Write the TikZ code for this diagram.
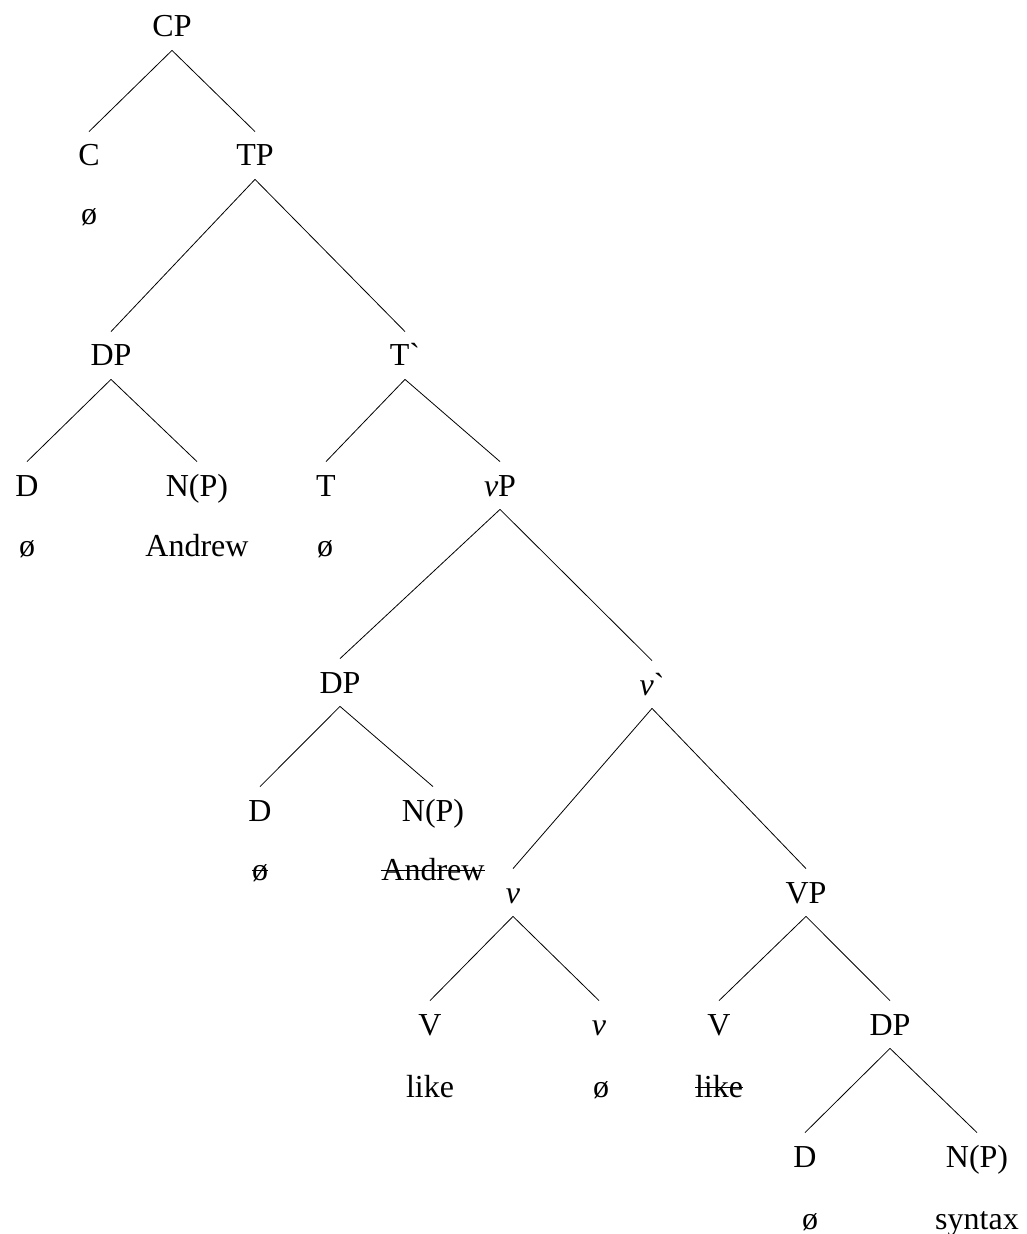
\documentclass[tikz,border=0pt]{standalone}
\usepackage{fontspec}
\setmainfont{Liberation Serif}
\usepackage{tikz}

\newcommand{\struck}[1]{\setbox0\hbox{#1}\rlap{\raise0.28em\hbox{\vrule width\wd0 height0.7pt depth0pt}}\box0}

\tikzset{
  cat/.style={anchor=base,font=\fontsize{16}{19}\selectfont,text height=11pt,text depth=0.5pt,inner xsep=1pt,inner ysep=6pt},
  word/.style={anchor=base,font=\fontsize{16}{19}\selectfont,inner sep=1pt}
}

\begin{document}
\begin{tikzpicture}[x=0.5pt,y=0.5pt,yscale=-1,xscale=1]
		\useasboundingbox (0,0) rectangle (1026,1234);
		
		% Text Node
		\node [cat] (cp) at (172,37) {CP};
		\node [cat] (c) at (89,166) {C};
		\node [word] (c0) at (89,225) {ø};
		\node [cat] (tp) at (255,166) {TP};
		% Text Node
		\node [cat] (dp1) at (111,366) {DP};
		\node [cat] (tbar) at (405,366) {T\textasciigrave};
		% Text Node
		\node [cat] (d1) at (27,496) {D};
		\node [word] (d10) at (27,556) {ø};
		\node [cat] (np1) at (197,496) {N(P)};
		\node [word] (andrew1) at (197,556) {Andrew};
		\node [cat] (t) at (326,496) {T};
		\node [word] (t0) at (325,556) {ø};
		\node [cat] (vp) at (500,496) {\textit{v}P};
		% Text Node
		\node [cat] (dp2) at (340,693) {DP};
		\node [cat] (vbar) at (652,695) {\textit{v}\textasciigrave};
		% Text Node
		\node [cat] (d2) at (260,821) {D};
		\node [word] (d20) at (260,880) {\struck{ø}};
		\node [cat] (np2) at (433,821) {N(P)};
		\node [word] (andrew2) at (433,880) {\struck{Andrew}};
		% Text Node
		\node [cat] (v1) at (513,903) {\textit{v}};
		\node [cat] (vphr) at (806,903) {VP};
		% Text Node
		\node [cat] (bigv1) at (430,1035) {V};
		\node [word] (like1) at (430,1097) {like};
		\node [cat] (v2) at (599,1035) {\textit{v}};
		\node [word] (v20) at (601,1097) {ø};
		\node [cat] (bigv2) at (719,1035) {V};
		\node [word] (like2) at (719,1097) {\struck{like}};
		\node [cat] (dp3) at (890,1035) {DP};
		% Text Node
		\node [cat] (d3) at (805,1167) {D};
		\node [word] (d30) at (810,1229) {ø};
		\node [cat] (np3) at (977,1167) {N(P)};
		\node [word] (syntax) at (977,1229) {syntax};
		
		% Connection
		\draw (cp.south) -- (c.north);
		\draw (cp.south) -- (tp.north);
		\draw (tp.south) -- (dp1.north);
		\draw (tp.south) -- (tbar.north);
		\draw (dp1.south) -- (d1.north);
		\draw (dp1.south) -- (np1.north);
		\draw (tbar.south) -- (t.north);
		\draw (tbar.south) -- (vp.north);
		% Connection
		\draw (vp.south) -- (dp2.north);
		\draw (vp.south) -- (vbar.north);
		\draw (dp2.south) -- (d2.north);
		\draw (dp2.south) -- (np2.north);
		\draw (vbar.south) -- (v1.north);
		\draw (vbar.south) -- (vphr.north);
		% Connection
		\draw (v1.south) -- (bigv1.north);
		\draw (v1.south) -- (v2.north);
		\draw (vphr.south) -- (bigv2.north);
		\draw (vphr.south) -- (dp3.north);
		\draw (dp3.south) -- (d3.north);
		\draw (dp3.south) -- (np3.north);
		
		\end{tikzpicture}
\end{document}
